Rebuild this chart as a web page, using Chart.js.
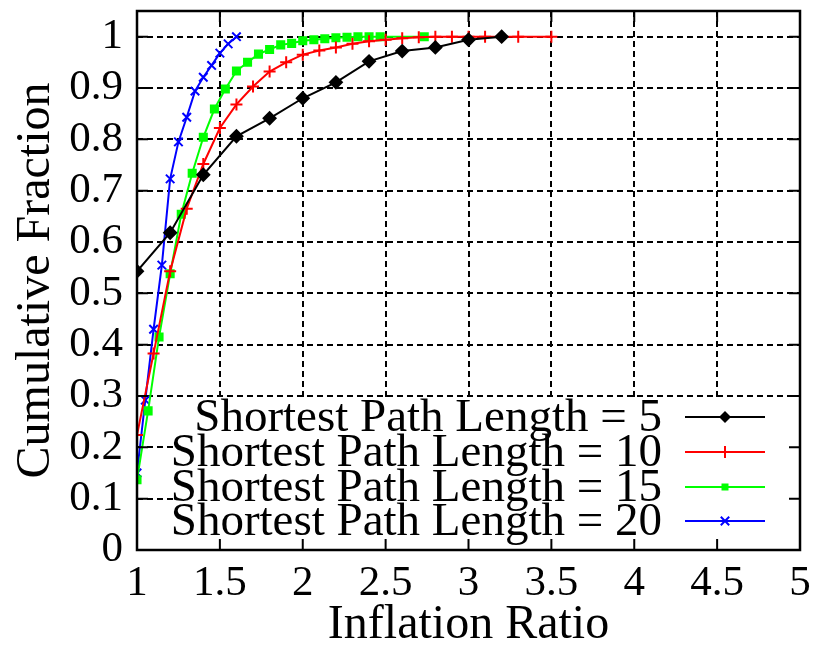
<!DOCTYPE html>
<html>
<head>
<meta charset="utf-8">
<script src="https://cdn.jsdelivr.net/npm/chart.js@4.4.1/dist/chart.umd.min.js"></script>
<style>
  html, body { margin: 0; padding: 0; background: #fff; }
  #wrap { width: 815px; height: 660px; }
</style>
</head>
<body>
<div id="wrap"><canvas id="cdf"></canvas></div>
<script>
// inflation ratio (x) and cumulative fraction (y), one pair per shortest path length
const ratio5 = [1.0, 1.2, 1.4, 1.6, 1.8, 2.0, 2.2, 2.4, 2.6, 2.8, 3.0, 3.2];
const frac5  = [0.543, 0.618, 0.731, 0.806, 0.841, 0.880, 0.911, 0.952, 0.972, 0.979, 0.994, 1.0];

const ratio10 = [1.0, 1.1, 1.2, 1.3, 1.4, 1.5, 1.6, 1.7, 1.8, 1.9, 2.0, 2.1, 2.2, 2.3, 2.4,
                 2.5, 2.6, 2.7, 2.8, 2.9, 3.0, 3.1, 3.2, 3.3, 3.5];
const frac10  = [0.224, 0.383, 0.543, 0.665, 0.752, 0.822, 0.868, 0.903, 0.932, 0.950, 0.965,
                 0.973, 0.979, 0.986, 0.991, 0.994, 0.997, 0.999, 1.0, 1.0, 1.0, 1.0, 1.0, 1.0, 1.0];

const ratio15 = [1.0, 1.067, 1.133, 1.2, 1.267, 1.333, 1.4, 1.467, 1.533, 1.6, 1.667, 1.733,
                 1.8, 1.867, 1.933, 2.0, 2.067, 2.133, 2.2, 2.267, 2.333, 2.4, 2.467, 2.733];
const frac15  = [0.137, 0.271, 0.415, 0.538, 0.654, 0.734, 0.804, 0.859, 0.898, 0.933, 0.950,
                 0.966, 0.975, 0.984, 0.987, 0.992, 0.994, 0.996, 0.998, 0.999, 1.0, 1.0, 1.0, 1.0];

const ratio20 = [1.0, 1.05, 1.1, 1.15, 1.2, 1.25, 1.3, 1.35, 1.4, 1.45, 1.5, 1.55, 1.6];
const frac20  = [0.150, 0.292, 0.430, 0.555, 0.723, 0.795, 0.843, 0.894, 0.921, 0.944, 0.968, 0.986, 1.0];

const seriesNames = [
  'Shortest Path Length = 5',
  'Shortest Path Length = 10',
  'Shortest Path Length = 15',
  'Shortest Path Length = 20'
];
const seriesColors = ['#000000', '#ff0000', '#00ff00', '#0000ff'];
const seriesMarkers = ['rectRot', 'cross', 'rect', 'crossRot'];

const xTicks = [1, 1.5, 2, 2.5, 3, 3.5, 4, 4.5, 5];
const yTicks = [0, 0.1, 0.2, 0.3, 0.4, 0.5, 0.6, 0.7, 0.8, 0.9, 1];

const FONT = "'Liberation Serif', 'Times New Roman', serif";

function points(xs, ys) {
  return xs.map((x, i) => ({ x: x, y: ys[i] }));
}

const allX = [ratio5, ratio10, ratio15, ratio20];
const allY = [frac5, frac10, frac15, frac20];

const datasets = seriesNames.map((name, i) => ({
  label: name,
  data: points(allX[i], allY[i]),
  borderColor: seriesColors[i],
  backgroundColor: seriesColors[i],
  borderWidth: 2,
  pointStyle: seriesMarkers[i],
  pointRadius: seriesMarkers[i] === 'rect' ? 5 : 6,
  pointBorderWidth: 2,
  pointHoverRadius: 6,
  tension: 0,
  fill: false
}));

// draw a legend marker by hand, same shapes as the series use
function marker(ctx, style, x, y, color) {
  ctx.save();
  ctx.strokeStyle = color;
  ctx.fillStyle = color;
  ctx.lineWidth = 2;
  ctx.beginPath();
  if (style === 'rectRot') {
    ctx.moveTo(x, y - 6); ctx.lineTo(x + 6, y); ctx.lineTo(x, y + 6); ctx.lineTo(x - 6, y);
    ctx.closePath(); ctx.fill();
  } else if (style === 'cross') {
    ctx.moveTo(x, y - 6); ctx.lineTo(x, y + 6); ctx.moveTo(x - 6, y); ctx.lineTo(x + 6, y);
    ctx.stroke();
  } else if (style === 'rect') {
    ctx.fillRect(x - 3.5, y - 3.5, 7, 7);
  } else {
    const d = 4.2;
    ctx.moveTo(x - d, y - d); ctx.lineTo(x + d, y + d); ctx.moveTo(x + d, y - d); ctx.lineTo(x - d, y + d);
    ctx.stroke();
  }
  ctx.restore();
}

const framePlugin = {
  id: 'frame',
  afterDatasetsDraw(chart) {
    const ctx = chart.ctx;
    const a = chart.chartArea;
    const xs = chart.scales.x, ys = chart.scales.y;

    // opaque key box in the lower right
    ctx.save();
    ctx.fillStyle = '#ffffff';
    ctx.fillRect(173, 399, a.right - 173, a.bottom - 399);

    // inward ticks on all four sides
    ctx.strokeStyle = '#000';
    ctx.lineWidth = 2;
    ctx.beginPath();
    xTicks.forEach(v => {
      const px = xs.getPixelForValue(v);
      ctx.moveTo(px, a.bottom); ctx.lineTo(px, a.bottom - 11);
      ctx.moveTo(px, a.top); ctx.lineTo(px, a.top + 11);
    });
    yTicks.forEach(v => {
      const py = ys.getPixelForValue(v);
      ctx.moveTo(a.left, py); ctx.lineTo(a.left + 11, py);
      ctx.moveTo(a.right, py); ctx.lineTo(a.right - 11, py);
    });
    ctx.stroke();

    // plot border
    ctx.lineWidth = 2.5;
    ctx.strokeRect(a.left, a.top, a.right - a.left, a.bottom - a.top);

    // key entries
    const rowY = [417, 452, 487, 521];
    ctx.font = '47px ' + FONT;
    ctx.textAlign = 'right';
    ctx.textBaseline = 'middle';
    chart.data.datasets.forEach((ds, i) => {
      const y = rowY[i];
      ctx.fillStyle = '#000';
      ctx.fillText(ds.label, 662, y + 2);
      ctx.strokeStyle = ds.borderColor;
      ctx.lineWidth = 2;
      ctx.beginPath();
      ctx.moveTo(685, y); ctx.lineTo(765, y);
      ctx.stroke();
      marker(ctx, ds.pointStyle, 725, y, ds.borderColor);
    });
    ctx.restore();
  }
};

new Chart(document.getElementById('cdf'), {
  type: 'line',
  data: { datasets: datasets },
  options: {
    responsive: true,
    maintainAspectRatio: false,
    animation: false,
    devicePixelRatio: 1,
    layout: { padding: { top: 11, right: 15, left: 0, bottom: 0 } },
    plugins: {
      legend: { display: false },
      tooltip: { enabled: false }
    },
    scales: {
      x: {
        type: 'linear',
        min: 1,
        max: 5,
        afterBuildTicks: s => { s.ticks = xTicks.map(v => ({ value: v })); },
        afterFit: s => {
          s.height = 110;
          s.paddingLeft = 0;
          s.paddingRight = 0;
        },
        grid: { color: '#000', lineWidth: 2, drawTicks: false },
        border: { display: false, dash: [6, 4] },
        ticks: {
          color: '#000',
          padding: 8,
          maxRotation: 0,
          autoSkip: false,
          font: { family: FONT, size: 43 },
          callback: v => String(v)
        },
        title: {
          display: true,
          text: 'Inflation Ratio',
          color: '#000',
          padding: { top: 0, bottom: 6 },
          font: { family: FONT, size: 48 }
        }
      },
      y: {
        type: 'linear',
        min: 0,
        max: 1.05,
        afterBuildTicks: s => { s.ticks = yTicks.map(v => ({ value: v })); },
        afterFit: s => {
          s.width = 137;
          s.paddingTop = 0;
          s.paddingBottom = 0;
        },
        grid: { color: '#000', lineWidth: 2, drawTicks: false },
        border: { display: false, dash: [6, 4] },
        ticks: {
          color: '#000',
          padding: 14,
          autoSkip: false,
          font: { family: FONT, size: 43 },
          callback: v => String(Number(v.toFixed(2)))
        },
        title: {
          display: true,
          text: 'Cumulative Fraction',
          color: '#000',
          padding: { top: 8, bottom: 0 },
          font: { family: FONT, size: 48 }
        }
      }
    }
  },
  plugins: [framePlugin]
});
</script>
</body>
</html>
